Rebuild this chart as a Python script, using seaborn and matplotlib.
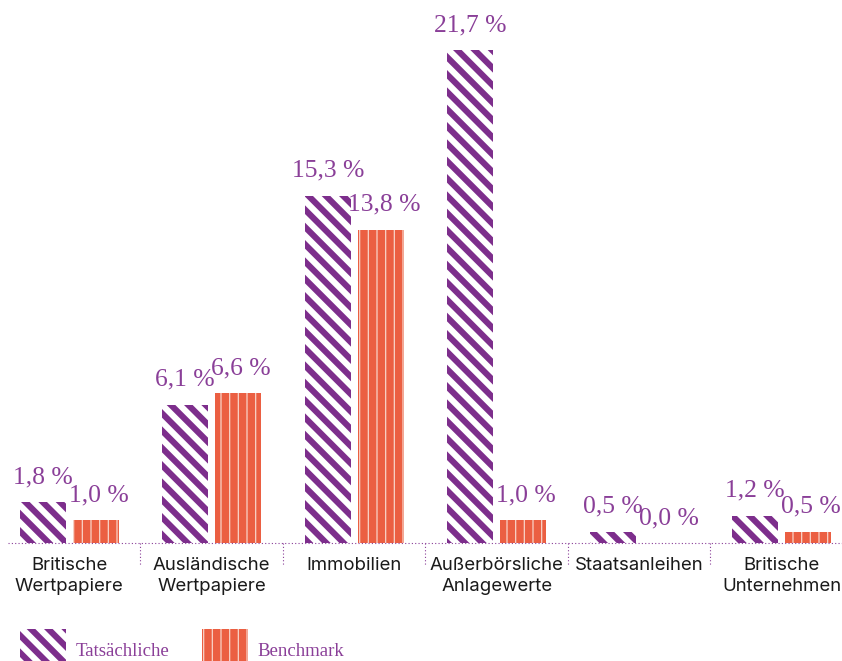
import matplotlib
matplotlib.use("Agg")
import matplotlib.pyplot as plt
import seaborn as sns
import pandas as pd
from matplotlib.patches import Patch, Rectangle
from matplotlib.legend_handler import HandlerPatch

categories = ["Britische\nWertpapiere", "Ausländische\nWertpapiere", "Immobilien",
              "Außerbörsliche\nAnlagewerte", "Staatsanleihen", "Britische\nUnternehmen"]
actual = [1.8, 6.1, 15.3, 21.7, 0.5, 1.2]
benchmark = [1.0, 6.6, 13.8, 1.0, 0.0, 0.5]
series = ["Tatsächliche", "Benchmark"]

PURPLE = "#7D2E8C"
LABEL_PURPLE = "#8A3F98"
ORANGE = "#EB5F42"
ORANGE_LINE = "#F8D3C8"

DPI = 104
def P(v):
    # sizes tuned for 100 dpi, converted for the actual dpi
    return v * 100 / DPI

def PX(v):
    # pixels to points
    return v * 72 / DPI

sns.set_theme(style="white")
plt.rcParams["font.family"] = ["Liberation Serif", "DejaVu Serif"]
plt.rcParams["hatch.linewidth"] = P(4.4)

df = pd.DataFrame({
    "cat": categories * 2,
    "val": actual + benchmark,
    "series": [series[0]] * len(categories) + [series[1]] * len(categories),
})

W, H = 843, 661
fig = plt.figure(figsize=(W / DPI, H / DPI), dpi=DPI)
left_px, right_px = -2, 853
base_px, top_px = 543, 0
ax = fig.add_axes([left_px / W, (H - base_px) / H, (right_px - left_px) / W, (base_px - top_px) / H])

sns.barplot(data=df, x="cat", y="val", hue="series", order=categories, hue_order=series,
            palette=[PURPLE, ORANGE], width=0.745, gap=0.14, ax=ax, legend=False,
            linewidth=0)

PURPLE_HATCH = "\\\\"
ORANGE_HATCH = "||"

def style_purple(p):
    p.set_facecolor(PURPLE)
    p.set_edgecolor("white")
    p.set_linewidth(0)
    p.set_hatch(PURPLE_HATCH)
    if hasattr(p, "set_hatch_linewidth"):
        p.set_hatch_linewidth(P(4.4))

def style_orange(p):
    p.set_facecolor(ORANGE)
    p.set_edgecolor(ORANGE_LINE)
    p.set_linewidth(0)
    p.set_hatch(ORANGE_HATCH)
    if hasattr(p, "set_hatch_linewidth"):
        p.set_hatch_linewidth(P(0.9))

n = len(categories)
bars = ax.patches
for p in bars[:n]:
    style_purple(p)
for p in bars[n:2 * n]:
    style_orange(p)

ax.set_xlim(-0.5, n - 0.5)
ax.set_ylim(0, (base_px - top_px) / 22.7)
ax.set_xlabel("")
ax.set_ylabel("")
ax.set_yticks([])
for s in ax.spines.values():
    s.set_visible(False)

ax.tick_params(axis="x", length=0, pad=P(10))
for lab in ax.get_xticklabels():
    lab.set_fontfamily(["Inter", "DejaVu Sans"])
    lab.set_fontsize(P(13.4))
    lab.set_color("#1a1a1a")
    lab.set_linespacing(1.3)
    lab.set_verticalalignment("top")

# value labels
for i, (p, v) in enumerate(zip(bars[:2 * n], actual + benchmark)):
    cx = p.get_x() + p.get_width() / 2
    dx = 0 if i < n else PX(3)
    ax.annotate(f"{v:.1f} %".replace(".", ","), (cx, p.get_height()), xytext=(dx, P(10)),
                textcoords="offset points", ha="center", va="bottom",
                fontsize=P(18.5), color=LABEL_PURPLE, annotation_clip=False)

# dotted baseline and separators
ax.axhline(0, xmin=(8 - left_px) / (right_px - left_px), xmax=1, color=LABEL_PURPLE,
           linestyle=(0, (1, 2)), linewidth=P(0.8), clip_on=False)
for b in [0.5, 1.5, 2.5, 3.5, 4.5]:
    ax.plot([b, b], [0, -22 / 22.7], color=LABEL_PURPLE, linestyle=(0, (1, 2)),
            linewidth=P(0.8), clip_on=False)


def legend_rect(legend, orig_handle, xdescent, ydescent, width, height, fontsize):
    # patch from 6 px below the text baseline to 27 px above it
    return Rectangle((-xdescent, -PX(6)), width, PX(33))


h1 = Patch()
h2 = Patch()
style_purple(h1)
style_orange(h2)
leg = fig.legend([h1, h2], series, loc="lower left", bbox_to_anchor=(20 / W, 1 / H),
                 ncol=2, frameon=False, fontsize=P(13.5), handlelength=2.45, handleheight=0.7,
                 handletextpad=0.5, columnspacing=1.75, borderpad=0, borderaxespad=0,
                 handler_map={Patch: HandlerPatch(patch_func=legend_rect)})
handles = getattr(leg, "legend_handles", None) or getattr(leg, "legendHandles", [])
if len(handles) == 2:
    style_purple(handles[0])
    style_orange(handles[1])
for t in leg.get_texts():
    t.set_color(LABEL_PURPLE)

fig.savefig("out.png", dpi=DPI)
